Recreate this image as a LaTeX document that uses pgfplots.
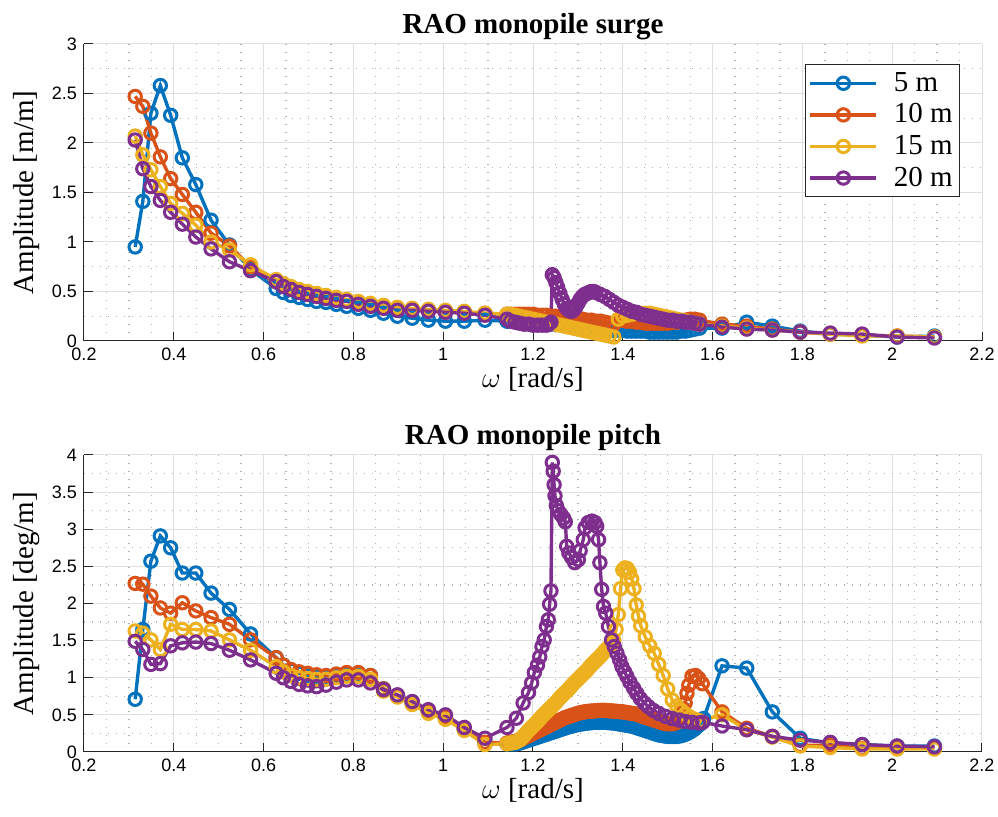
\documentclass[border=0pt]{standalone}
\usepackage{fontspec}
\setmainfont{Liberation Serif}
\newfontfamily\ticksf{Liberation Sans}
\usepackage{pgfplots}
\pgfplotsset{compat=1.18}
\definecolor{mblue}{rgb}{0,0.447,0.741}
\definecolor{morange}{rgb}{0.850,0.325,0.098}
\definecolor{myellow}{rgb}{0.929,0.694,0.125}
\definecolor{mpurple}{rgb}{0.494,0.184,0.556}
\pgfplotsset{
  raostyle/.style={
    scale only axis, width=449pt, height=148.5pt,
    xmin=0.2, xmax=2.2,
    xtick={0.2,0.4,0.6,0.8,1,1.2,1.4,1.6,1.8,2,2.2},
    xticklabels={0.2,0.4,0.6,0.8,1,1.2,1.4,1.6,1.8,2,2.2},
    minor x tick num=3, minor y tick num=1,
    grid=both,
    major grid style={gray!25, line width=0.5pt},
    minor grid style={gray!60, line width=0.65pt, dash pattern=on 0.65pt off 3.35pt},
    axis x line*=bottom, axis y line*=left,
    axis line style={black!85, line width=0.5pt, -},
    tick align=inside, major tick length=4.5pt, minor tick length=0pt,
    tick style={black!85, line width=0.5pt},
    tick label style={font=\ticksf\fontsize{9}{10}\selectfont},
    /pgf/number format/assume math mode=true,
    title style={font=\bfseries\fontsize{14.5}{16}\selectfont, at={(axis description cs:0.5,1)}, anchor=south, yshift=-4pt, inner sep=0pt},
    xlabel style={font=\fontsize{14.5}{16}\selectfont, at={(axis description cs:0.5,0)}, anchor=north, yshift=-13pt, inner sep=0pt},
    ylabel style={font=\fontsize{14.5}{16}\selectfont, at={(axis description cs:-0.049,0.5)}, anchor=south, inner sep=0pt},
    clip=false,
    every axis plot/.append style={line width=1.7pt, mark=o, mark size=3.1pt, mark options={line width=1.5pt, solid}},
    legend image code/.code={\draw[mark repeat=2,mark phase=2,#1] plot coordinates {(0pt,0pt) (16.5pt,0pt) (33pt,0pt)};},
  }
}
\begin{document}
\begin{tikzpicture}
\path[use as bounding box] (-42pt,-32.5pt) rectangle (457pt,376pt);
% ---------------- surge ----------------
\begin{axis}[raostyle, at={(0,205.5pt)},
  ymin=0, ymax=3, ytick={0,0.5,1,1.5,2,2.5,3}, yticklabels={0,0.5,1,1.5,2,2.5,3},
  title={RAO monopile surge}, xlabel={$\omega$ [rad/s]}, ylabel={Amplitude [m/m]},
  legend style={at={(rel axis cs:1,1)}, anchor=north east, xshift=-11pt, yshift=-10pt,
    font=\fontsize{14.5}{15}\selectfont, draw=black!85, line width=0.5pt, inner sep=1.5pt,
    nodes={inner sep=1.9pt, text height=10pt, text depth=2pt}, legend cell align=left,
    /tikz/every odd column/.append style={column sep=6pt}},
]
\addplot[mblue] coordinates {(0.314,0.95) (0.331,1.41) (0.349,2.30) (0.370,2.58) (0.393,2.28) (0.419,1.85) (0.449,1.58) (0.483,1.22) (0.524,0.97) (0.571,0.72) (0.628,0.53) (0.644,0.49) (0.661,0.46) (0.679,0.44) (0.698,0.42) (0.718,0.40) (0.739,0.39) (0.762,0.37) (0.785,0.35) (0.811,0.33) (0.838,0.31) (0.867,0.28) (0.898,0.25) (0.931,0.23) (0.967,0.21) (1.005,0.20) (1.047,0.20) (1.093,0.21) (1.142,0.20)
(1.15,0.20) (1.16,0.20) (1.17,0.20) (1.18,0.19) (1.19,0.19) (1.20,0.19) (1.21,0.18) (1.22,0.18) (1.23,0.18) (1.24,0.17) (1.25,0.17) (1.26,0.17) (1.27,0.16) (1.28,0.16) (1.29,0.15) (1.30,0.15) (1.31,0.14) (1.32,0.14) (1.33,0.13) (1.34,0.13) (1.35,0.13) (1.36,0.12) (1.37,0.12) (1.38,0.11) (1.39,0.11) (1.40,0.11) (1.41,0.10) (1.42,0.10) (1.43,0.10) (1.44,0.10) (1.45,0.10) (1.46,0.09) (1.47,0.09) (1.48,0.09) (1.49,0.09) (1.50,0.09) (1.51,0.09) (1.52,0.09) (1.53,0.10) (1.54,0.10) (1.55,0.11) (1.56,0.12) (1.571,0.13)
(1.621,0.13) (1.676,0.19) (1.733,0.15) (1.795,0.10) (1.862,0.07) (1.933,0.06) (2.011,0.04) (2.094,0.05)};
\addlegendentry{5 m}
\addplot[morange] coordinates {(0.314,2.47) (0.331,2.37) (0.349,2.10) (0.370,1.86) (0.393,1.64) (0.419,1.48) (0.449,1.30) (0.483,1.09) (0.524,0.96) (0.571,0.75) (0.628,0.60) (0.644,0.56) (0.661,0.53) (0.679,0.50) (0.698,0.48) (0.718,0.46) (0.739,0.44) (0.762,0.42) (0.785,0.41) (0.811,0.39) (0.838,0.37) (0.867,0.35) (0.898,0.33) (0.931,0.32) (0.967,0.31) (1.005,0.30) (1.047,0.29) (1.093,0.28) (1.142,0.27)
(1.15,0.27) (1.16,0.27) (1.17,0.27) (1.18,0.27) (1.19,0.27) (1.20,0.27) (1.21,0.26) (1.22,0.26) (1.23,0.26) (1.24,0.25) (1.25,0.25) (1.26,0.24) (1.27,0.24) (1.28,0.23) (1.29,0.23) (1.30,0.22) (1.31,0.22) (1.32,0.21) (1.33,0.21) (1.34,0.20) (1.35,0.20) (1.36,0.19) (1.37,0.18) (1.38,0.17) (1.39,0.21) (1.40,0.21) (1.41,0.20) (1.42,0.20) (1.43,0.19) (1.44,0.19) (1.45,0.18) (1.46,0.18) (1.47,0.18) (1.48,0.18) (1.49,0.18) (1.50,0.18) (1.51,0.19) (1.52,0.19) (1.53,0.20) (1.54,0.21) (1.55,0.22) (1.56,0.22) (1.571,0.21)
(1.621,0.17) (1.676,0.15) (1.733,0.12) (1.795,0.09) (1.862,0.07) (1.933,0.06) (2.011,0.05) (2.094,0.04)};
\addlegendentry{10 m}
\addplot[myellow] coordinates {(0.314,2.07) (0.331,1.88) (0.349,1.73) (0.370,1.56) (0.393,1.39) (0.419,1.29) (0.449,1.17) (0.483,1.00) (0.524,0.92) (0.571,0.77) (0.628,0.62) (0.644,0.58) (0.661,0.55) (0.679,0.52) (0.698,0.50) (0.718,0.48) (0.739,0.46) (0.762,0.44) (0.785,0.42) (0.811,0.40) (0.838,0.38) (0.867,0.36) (0.898,0.34) (0.931,0.33) (0.967,0.32) (1.005,0.31) (1.047,0.30) (1.093,0.28) (1.142,0.27)
(1.15,0.27) (1.16,0.26) (1.17,0.25) (1.18,0.24) (1.19,0.23) (1.20,0.22) (1.21,0.21) (1.22,0.20) (1.23,0.19) (1.24,0.18) (1.25,0.17) (1.26,0.16) (1.27,0.15) (1.28,0.14) (1.29,0.13) (1.30,0.12) (1.31,0.11) (1.32,0.10) (1.33,0.09) (1.34,0.08) (1.35,0.07) (1.36,0.06) (1.37,0.05) (1.38,0.04) (1.39,0.22) (1.40,0.25) (1.41,0.26) (1.42,0.27) (1.43,0.28) (1.44,0.28) (1.45,0.28) (1.46,0.28) (1.47,0.27) (1.48,0.26) (1.49,0.25) (1.50,0.24) (1.51,0.23) (1.52,0.22) (1.53,0.21) (1.54,0.20) (1.55,0.19) (1.56,0.18) (1.571,0.17)
(1.621,0.15) (1.676,0.13) (1.733,0.11) (1.795,0.09) (1.862,0.07) (1.933,0.05) (2.011,0.05) (2.094,0.04)};
\addlegendentry{15 m}
\addplot[mpurple] coordinates {(0.314,2.03) (0.331,1.74) (0.349,1.56) (0.370,1.42) (0.393,1.30) (0.419,1.18) (0.449,1.05) (0.483,0.93) (0.524,0.80) (0.571,0.71) (0.628,0.60) (0.644,0.55) (0.661,0.52) (0.679,0.49) (0.698,0.47) (0.718,0.45) (0.739,0.43) (0.762,0.41) (0.785,0.40) (0.811,0.37) (0.838,0.35) (0.867,0.33) (0.898,0.31) (0.931,0.31) (0.967,0.30) (1.005,0.29) (1.047,0.28) (1.093,0.26) (1.142,0.22)
(1.15,0.20) (1.16,0.19) (1.17,0.18) (1.18,0.17) (1.19,0.17) (1.20,0.16) (1.21,0.16) (1.22,0.16) (1.23,0.16) (1.235,0.17) (1.24,0.19) (1.243,0.67) (1.247,0.64) (1.251,0.59) (1.255,0.54) (1.26,0.48) (1.265,0.42) (1.27,0.37) (1.275,0.33) (1.28,0.31) (1.285,0.30) (1.29,0.31) (1.295,0.34) (1.30,0.38) (1.305,0.42) (1.31,0.45) (1.315,0.47) (1.32,0.48) (1.325,0.49) (1.33,0.50) (1.335,0.50) (1.34,0.49) (1.35,0.47) (1.36,0.45) (1.37,0.42) (1.38,0.39) (1.39,0.36) (1.40,0.34) (1.41,0.32) (1.42,0.30) (1.43,0.29) (1.44,0.27) (1.45,0.26) (1.46,0.25) (1.47,0.24) (1.48,0.23) (1.49,0.22) (1.50,0.21) (1.51,0.21) (1.52,0.20) (1.53,0.20) (1.54,0.19) (1.55,0.19) (1.56,0.18) (1.571,0.17)
(1.621,0.14) (1.676,0.12) (1.733,0.11) (1.795,0.09) (1.862,0.08) (1.933,0.07) (2.011,0.04) (2.094,0.03)};
\addlegendentry{20 m}
\end{axis}
% ---------------- pitch ----------------
\begin{axis}[raostyle, at={(0,0)},
  ymin=0, ymax=4, ytick={0,0.5,1,1.5,2,2.5,3,3.5,4}, yticklabels={0,0.5,1,1.5,2,2.5,3,3.5,4},
  title={RAO monopile pitch}, xlabel={$\omega$ [rad/s]}, ylabel={Amplitude [deg/m]},
]
\addplot[mblue] coordinates {(0.314,0.71) (0.331,1.65) (0.349,2.57) (0.370,2.91) (0.393,2.75) (0.419,2.41) (0.449,2.41) (0.483,2.14) (0.524,1.92) (0.571,1.59) (0.628,1.27) (0.644,1.17) (0.661,1.10) (0.679,1.06) (0.698,1.03) (0.718,1.01) (0.739,1.00) (0.762,1.02) (0.785,1.04) (0.811,1.05) (0.838,1.03) (0.867,0.85) (0.898,0.76) (0.931,0.67) (0.967,0.55) (1.005,0.46) (1.047,0.31) (1.093,0.12) (1.142,0.11)
(1.150,0.11) (1.155,0.11) (1.160,0.11) (1.165,0.115) (1.170,0.12) (1.175,0.13) (1.180,0.14) (1.185,0.15) (1.190,0.16) (1.195,0.17) (1.200,0.18) (1.205,0.19) (1.210,0.20) (1.215,0.21) (1.220,0.22) (1.225,0.23) (1.230,0.24) (1.235,0.25) (1.240,0.26) (1.245,0.27) (1.250,0.28) (1.255,0.29) (1.260,0.30) (1.265,0.31) (1.270,0.32) (1.275,0.33) (1.280,0.34) (1.285,0.348) (1.290,0.355) (1.295,0.363) (1.300,0.37) (1.305,0.375) (1.310,0.38) (1.315,0.385) (1.320,0.39) (1.325,0.393) (1.330,0.395) (1.335,0.398) (1.340,0.40) (1.345,0.40) (1.350,0.40) (1.355,0.40) (1.360,0.40) (1.365,0.398) (1.370,0.395) (1.375,0.393) (1.380,0.39) (1.385,0.385) (1.390,0.38) (1.395,0.375) (1.400,0.37) (1.405,0.365) (1.410,0.36) (1.415,0.355) (1.420,0.35) (1.425,0.34) (1.430,0.33) (1.435,0.32) (1.440,0.31) (1.445,0.30) (1.450,0.29) (1.455,0.28) (1.460,0.27) (1.465,0.26) (1.470,0.25) (1.475,0.24) (1.480,0.23) (1.485,0.225) (1.490,0.22) (1.495,0.215) (1.500,0.21) (1.505,0.21) (1.510,0.21) (1.515,0.21) (1.520,0.21) (1.525,0.215) (1.530,0.22) (1.535,0.23) (1.540,0.24) (1.545,0.255) (1.550,0.27) (1.555,0.29) (1.560,0.31) (1.565,0.34) (1.571,0.37) (1.575,0.41) (1.580,0.45)
(1.621,1.16) (1.676,1.13) (1.733,0.54) (1.795,0.185) (1.862,0.12) (1.933,0.10) (2.011,0.08) (2.094,0.08)};
\addplot[morange] coordinates {(0.314,2.27) (0.331,2.26) (0.349,2.10) (0.370,1.94) (0.393,1.87) (0.419,2.01) (0.449,1.90) (0.483,1.81) (0.524,1.72) (0.571,1.51) (0.628,1.27) (0.644,1.17) (0.661,1.11) (0.679,1.08) (0.698,1.06) (0.718,1.04) (0.739,1.03) (0.762,1.05) (0.785,1.07) (0.811,1.07) (0.838,1.03) (0.867,0.85) (0.898,0.76) (0.931,0.67) (0.967,0.55) (1.005,0.47) (1.047,0.31) (1.093,0.13) (1.142,0.12)
(1.150,0.13) (1.155,0.135) (1.160,0.14) (1.165,0.15) (1.170,0.16) (1.175,0.175) (1.180,0.19) (1.185,0.205) (1.190,0.22) (1.195,0.235) (1.200,0.25) (1.205,0.265) (1.210,0.28) (1.215,0.295) (1.220,0.31) (1.225,0.325) (1.230,0.34) (1.235,0.355) (1.240,0.37) (1.245,0.385) (1.250,0.40) (1.255,0.415) (1.260,0.43) (1.265,0.445) (1.270,0.46) (1.275,0.47) (1.280,0.48) (1.285,0.49) (1.290,0.50) (1.295,0.51) (1.300,0.52) (1.305,0.528) (1.310,0.535) (1.315,0.54) (1.320,0.545) (1.325,0.548) (1.330,0.55) (1.335,0.553) (1.340,0.555) (1.345,0.558) (1.350,0.56) (1.355,0.56) (1.360,0.56) (1.365,0.558) (1.370,0.555) (1.375,0.553) (1.380,0.55) (1.385,0.548) (1.390,0.545) (1.395,0.543) (1.400,0.54) (1.405,0.535) (1.410,0.53) (1.415,0.525) (1.420,0.52) (1.425,0.515) (1.430,0.51) (1.435,0.50) (1.440,0.49) (1.445,0.48) (1.450,0.47) (1.455,0.46) (1.460,0.45) (1.465,0.44) (1.470,0.43) (1.475,0.42) (1.480,0.41) (1.485,0.40) (1.490,0.39) (1.495,0.385) (1.500,0.38) (1.505,0.38) (1.510,0.38) (1.515,0.39) (1.520,0.40) (1.525,0.44) (1.530,0.50) (1.535,0.58) (1.539,0.66) (1.543,0.79) (1.547,0.90) (1.554,1.02) (1.562,1.03) (1.569,0.99) (1.577,0.92)
(1.621,0.54) (1.676,0.32) (1.733,0.21) (1.795,0.09) (1.862,0.09) (1.933,0.05) (2.011,0.05) (2.094,0.05)};
\addplot[myellow] coordinates {(0.314,1.63) (0.331,1.60) (0.349,1.51) (0.370,1.38) (0.393,1.72) (0.419,1.65) (0.449,1.65) (0.483,1.63) (0.524,1.51) (0.571,1.37) (0.628,1.15) (0.644,1.08) (0.661,1.03) (0.679,1.00) (0.698,0.99) (0.718,0.98) (0.739,0.98) (0.762,1.00) (0.785,1.02) (0.811,1.02) (0.838,0.98) (0.867,0.82) (0.898,0.74) (0.931,0.64) (0.967,0.52) (1.005,0.44) (1.047,0.29) (1.093,0.10) (1.142,0.11)
(1.150,0.12) (1.155,0.125) (1.160,0.13) (1.165,0.145) (1.170,0.16) (1.175,0.19) (1.180,0.22) (1.185,0.255) (1.190,0.29) (1.195,0.32) (1.200,0.35) (1.205,0.38) (1.210,0.41) (1.215,0.445) (1.220,0.48) (1.225,0.51) (1.230,0.54) (1.235,0.57) (1.240,0.60) (1.245,0.63) (1.250,0.66) (1.255,0.695) (1.260,0.73) (1.265,0.76) (1.270,0.79) (1.275,0.82) (1.280,0.85) (1.285,0.885) (1.290,0.92) (1.295,0.95) (1.300,0.98) (1.305,1.01) (1.310,1.04) (1.315,1.07) (1.320,1.10) (1.325,1.135) (1.330,1.17) (1.335,1.20) (1.340,1.23) (1.345,1.26) (1.350,1.29) (1.355,1.325) (1.360,1.36) (1.365,1.39) (1.370,1.42) (1.375,1.46) (1.380,1.50) (1.385,1.65) (1.39,1.85) (1.395,2.20) (1.40,2.45) (1.405,2.48) (1.41,2.47) (1.415,2.42) (1.42,2.33) (1.425,2.20) (1.43,1.98) (1.435,1.83) (1.44,1.70) (1.45,1.55) (1.46,1.43) (1.47,1.33) (1.48,1.18) (1.49,1.03) (1.50,0.85) (1.51,0.70) (1.52,0.62) (1.53,0.56) (1.54,0.51) (1.55,0.47) (1.56,0.44) (1.571,0.42)
(1.621,0.50) (1.676,0.30) (1.733,0.20) (1.795,0.08) (1.862,0.06) (1.933,0.04) (2.011,0.04) (2.094,0.04)};
\addplot[mpurple] coordinates {(0.314,1.49) (0.331,1.38) (0.349,1.18) (0.370,1.19) (0.393,1.43) (0.419,1.47) (0.449,1.48) (0.483,1.46) (0.524,1.37) (0.571,1.24) (0.628,1.06) (0.644,1.00) (0.661,0.95) (0.679,0.91) (0.698,0.89) (0.718,0.88) (0.739,0.90) (0.762,0.94) (0.785,0.97) (0.811,0.97) (0.838,0.93) (0.867,0.84) (0.898,0.77) (0.931,0.68) (0.967,0.57) (1.005,0.50) (1.047,0.33) (1.093,0.185) (1.142,0.33)
(1.163,0.455) (1.178,0.66) (1.190,0.80) (1.197,0.93) (1.203,1.07) (1.210,1.17) (1.215,1.28) (1.220,1.42) (1.225,1.51) (1.230,1.69) (1.234,1.78) (1.237,1.99) (1.240,2.17) (1.243,3.90) (1.245,3.78) (1.247,3.60) (1.249,3.45) (1.252,3.32) (1.256,3.25) (1.262,3.20) (1.268,3.15) (1.272,3.10) (1.275,2.77) (1.280,2.68) (1.286,2.62) (1.293,2.55) (1.301,2.59) (1.305,2.71) (1.312,2.86) (1.316,3.02) (1.323,3.09) (1.331,3.11) (1.338,3.09) (1.342,3.04) (1.346,2.86) (1.349,2.55) (1.353,2.19) (1.357,1.96) (1.362,1.87) (1.368,1.69) (1.375,1.51) (1.381,1.42) (1.387,1.33) (1.393,1.24) (1.398,1.15) (1.404,1.08) (1.409,1.02) (1.416,0.94) (1.424,0.86) (1.431,0.79) (1.439,0.72) (1.448,0.66) (1.457,0.61) (1.468,0.56) (1.480,0.52) (1.495,0.48) (1.510,0.45) (1.525,0.43) (1.539,0.41) (1.554,0.40) (1.569,0.39) (1.578,0.40)
(1.621,0.35) (1.676,0.30) (1.733,0.21) (1.795,0.16) (1.862,0.13) (1.933,0.10) (2.011,0.08) (2.094,0.07)};
\end{axis}
\end{tikzpicture}
\end{document}
